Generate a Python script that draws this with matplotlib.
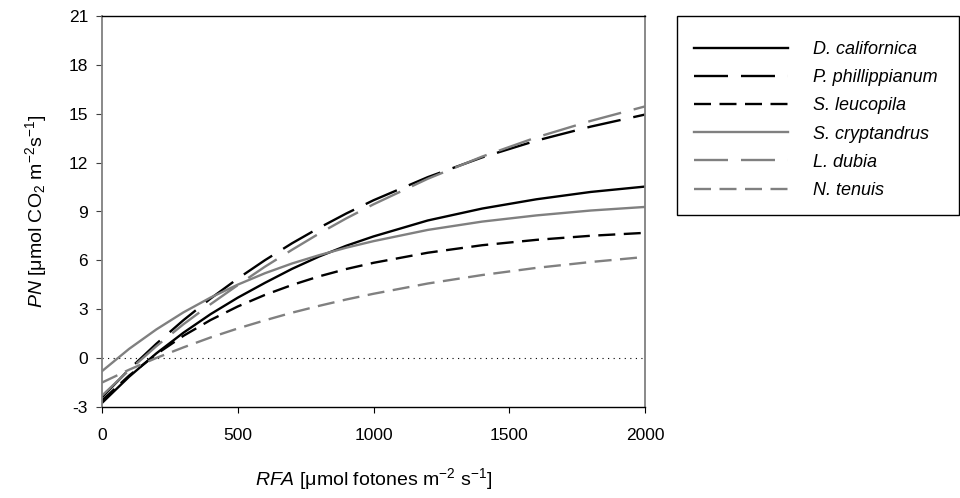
import matplotlib
matplotlib.use("Agg")
from matplotlib import pyplot as plt
from matplotlib.patches import Rectangle

plt.rcParams['font.family'] = ['Liberation Sans', 'DejaVu Sans']
plt.rcParams['mathtext.fontset'] = 'custom'
plt.rcParams['mathtext.rm'] = 'Liberation Sans'
plt.rcParams['mathtext.it'] = 'Liberation Sans:italic'
plt.rcParams['axes.unicode_minus'] = False

# irradiance (RFA) and net photosynthesis (PN) per species
rfa = [0, 100, 200, 300, 400, 500, 600, 700, 800, 900, 1000, 1200, 1400, 1600, 1800, 2000]

d_californica = [-2.75, -1.14, 0.29, 1.56, 2.70, 3.71, 4.62, 5.48, 6.24, 6.90, 7.47, 8.45, 9.18, 9.75, 10.20, 10.53]
p_phillippianum = [-2.40, -0.69, 0.88, 2.33, 3.66, 4.88, 6.01, 7.05, 8.00, 8.88, 9.69, 11.11, 12.32, 13.35, 14.21, 14.95]
s_leucopila = [-2.60, -1.07, 0.24, 1.37, 2.34, 3.17, 3.88, 4.49, 5.02, 5.47, 5.85, 6.47, 6.93, 7.26, 7.51, 7.69]
s_cryptandrus = [-0.80, 0.57, 1.76, 2.81, 3.72, 4.51, 5.21, 5.81, 6.32, 6.78, 7.18, 7.87, 8.38, 8.76, 9.06, 9.28]
l_dubia = [-2.30, -0.74, 0.73, 2.08, 3.31, 4.48, 5.61, 6.65, 7.65, 8.58, 9.44, 11.01, 12.37, 13.55, 14.56, 15.45]
n_tenuis = [-1.50, -0.71, 0.01, 0.66, 1.27, 1.82, 2.32, 2.79, 3.21, 3.60, 3.95, 4.58, 5.10, 5.54, 5.90, 6.21]

names = ["D. californica", "P. phillippianum", "S. leucopila",
         "S. cryptandrus", "L. dubia", "N. tenuis"]
series = [d_californica, p_phillippianum, s_leucopila,
          s_cryptandrus, l_dubia, n_tenuis]

xticks = [0, 500, 1000, 1500, 2000]
yticks = [-3, 0, 3, 6, 9, 12, 15, 18, 21]

BLACK = "#000000"
GRAY = "#808080"
LW = 1.7
solid = None
long_dash = (14.4, 5.5)
short_dash = (7.2, 3.6)
styles = [(BLACK, solid), (BLACK, long_dash), (BLACK, short_dash),
          (GRAY, solid), (GRAY, long_dash), (GRAY, short_dash)]

TICK_FS = 12.5
LABEL_FS = 14
LEG_FS = 13

fig = plt.figure(figsize=(9.6, 4.98), dpi=100)
ax = fig.add_axes([102 / 960, 1 - 407 / 498, 543 / 960, 391 / 498])

# zero line
ax.plot([rfa[0], rfa[-1]], [0, 0], color="black", lw=0.8,
        linestyle=(0, (1, 4)), zorder=1)

handles = []
for name, vals, (col, dash) in zip(names, series, styles):
    line, = ax.plot(rfa, vals, color=col, lw=LW, label=name, zorder=2)
    if dash is not None:
        line.set_dashes(dash)
    handles.append(line)

ax.set_xlim(0, 2000)
ax.set_ylim(-3, 21)
ax.set_xticks(xticks)
ax.set_yticks(yticks)

for side in ("top", "bottom"):
    ax.spines[side].set_color(BLACK)
    ax.spines[side].set_linewidth(1.0)
for side in ("left", "right"):
    ax.spines[side].set_color(GRAY)
    ax.spines[side].set_linewidth(1.3)

ax.tick_params(axis="x", direction="out", length=4, width=0.8,
               labelsize=TICK_FS, pad=11, color=BLACK)
ax.tick_params(axis="y", direction="out", length=4, width=0.8,
               labelsize=TICK_FS, pad=6, color="#404040")

ax.set_xlabel(r"$\it{RFA}$ [μmol fotones m$^{-2}$ s$^{-1}$]",
              fontsize=LABEL_FS, labelpad=17)
ax.set_ylabel(r"$\it{PN}$ [μmol CO$_2$ m$^{-2}$s$^{-1}$]",
              fontsize=LABEL_FS, labelpad=14)

# legend box
fig.patches.append(Rectangle((677 / 960, 1 - 215 / 498), 282 / 960, 199 / 498,
                             transform=fig.transFigure, fill=False,
                             edgecolor=BLACK, lw=1.0))
leg = fig.legend(handles=handles, loc="upper left",
                 bbox_to_anchor=(694 / 960, 1 - 41 / 498),
                 frameon=False, fontsize=LEG_FS, handlelength=5.2,
                 handletextpad=1.4, labelspacing=0.62, borderpad=0,
                 borderaxespad=0)
for txt in leg.get_texts():
    txt.set_fontstyle("italic")

fig.savefig("out.png", dpi=100)
